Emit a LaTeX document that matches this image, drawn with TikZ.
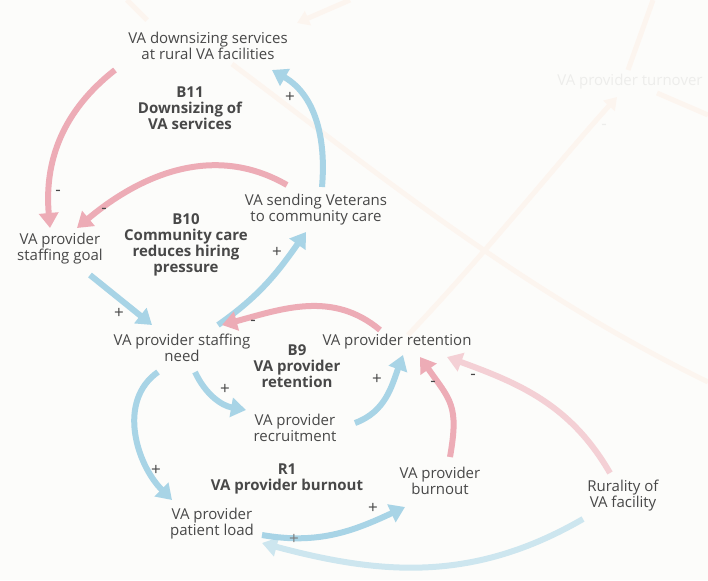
\documentclass[tikz,border=0pt]{standalone}
\usepackage{fontspec}
\setmainfont{Open Sans}
\usetikzlibrary{arrows.meta}
\definecolor{bgpaper}{RGB}{252,252,250}
\definecolor{linkblue}{RGB}{168,212,230}
\definecolor{linkpink}{RGB}{237,172,182}
\definecolor{fadepink}{RGB}{244,208,213}
\definecolor{fadeblue}{RGB}{205,230,239}
\definecolor{ghostline}{RGB}{252,245,239}
\definecolor{ghosttext}{RGB}{237,237,235}
\definecolor{inktext}{RGB}{72,72,72}

\tikzset{
  var/.style={align=center, font=\fontsize{15}{16}\selectfont, text=inktext, inner sep=0pt},
  loopname/.style={var, font=\fontsize{15}{16}\selectfont\bfseries},
  pol/.style={font=\fontsize{17}{17}\selectfont, text=inktext, inner sep=0pt},
  link/.style={line width=6pt, -{Triangle[length=15pt,width=19pt]}},
  ghost/.style={line width=5pt, ghostline},
}

\begin{document}
\begin{tikzpicture}[x=1pt,y=1pt]
  \fill[bgpaper] (0,0) rectangle (708,-580);
  \useasboundingbox (0,0) rectangle (708,-580);

  % faded part of the larger model
  \node[var, text=ghosttext] (turnover) at (630,-82) {VA provider turnover};
  \draw[ghost] (232,-64) .. controls (380,-175) and (520,-290) .. (708,-382);
  \draw[ghost, -{Triangle[length=12pt,width=15pt]}] ([shift={(-222,-253)}]turnover.center) .. controls (480,-260) and (560,-160) .. ([shift={(-13,-15)}]turnover.center);
  \draw[ghost] ([shift={(-2,12)}]turnover.center) -- (653,0);
  \draw[ghost] ([shift={(27,-11)}]turnover.center) -- (708,-115);
  \draw[ghost, -{Triangle[length=12pt,width=15pt]}] (350,0) -- (297,-23);
  \draw[ghost] (127,0) -- (147,-20);
  \node[pol, text=ghosttext] at (604,-127) {-};

  % variables
  \node[var] (down) at (208,-46) {VA downsizing services\\at rural VA facilities};
  \node[var] (goal) at (60,-249) {VA provider\\staffing goal};
  \node[var] (send) at (316,-210) {VA sending Veterans\\to community care};
  \node[var] (need) at (182,-348) {VA provider staffing\\need};
  \node[var] (ret) at (397,-342) {VA provider retention};
  \node[var] (rec) at (295,-428) {VA provider\\recruitment};
  \node[var] (burn) at (440,-481) {VA provider\\burnout};
  \node[var] (load) at (212,-524) {VA provider\\patient load};
  \node[var] (rural) at (623,-496) {Rurality of\\VA facility};

  % loop names
  \node[loopname] (b11) at (190,-108) {B11\\Downsizing of\\VA services};
  \node[loopname] (b10) at (186,-245) {B10\\Community care\\reduces hiring\\pressure};
  \node[loopname] (b9) at (297,-366) {B9\\VA provider\\retention};
  \node[loopname] (r1) at (287,-479) {R1\\VA provider burnout};

  % links
  \draw[link, fadeblue] ([shift={(-40,-23)}]rural.center) to[out=210,in=-15] ([shift={(50,-19)}]load.center);
  \draw[link, fadepink] ([shift={(-13,23)}]rural.center) to[out=120,in=-20] ([shift={(50,-15)}]ret.center);
  \draw[link, linkpink] ([shift={(-93,-24)}]down.center) to[out=218,in=95] ([shift={(-10,21)}]goal.center);
  \draw[link, linkpink] ([shift={(-29,25)}]send.center) to[out=150,in=40] ([shift={(17,21)}]goal.center);
  \draw[link, linkblue] ([shift={(6,23)}]send.center) to[out=85,in=-30] ([shift={(64,-24)}]down.center);
  \draw[link, linkblue] ([shift={(30,-26)}]goal.center) -- ([shift={(-30,23)}]need.center);
  \draw[link, linkblue] ([shift={(36,23)}]need.center) to[out=35,in=235] ([shift={(-10,-22)}]send.center);
  \draw[link, linkpink] ([shift={(-17,12)}]ret.center) to[out=140,in=15] ([shift={(40,23)}]need.center);
  \draw[link, linkblue] ([shift={(13,-24)}]need.center) to[out=-65,in=170] ([shift={(-49,18)}]rec.center);
  \draw[link, linkblue] ([shift={(60,5)}]rec.center) to[out=20,in=-110] ([shift={(6,-13)}]ret.center);
  \draw[link, linkpink] ([shift={(10,24)}]burn.center) to[out=80,in=-55,looseness=1.3] ([shift={(23,-15)}]ret.center);
  \draw[link, linkblue] ([shift={(-24,-24)}]need.center) to[out=215,in=135] ([shift={(-40,24)}]load.center);
  \draw[link, linkblue] ([shift={(50,-11)}]load.center) to[out=-10,in=205] ([shift={(-35,-26)}]burn.center);

  % polarities
  \node[pol] at (58,-193) {-};
  \node[pol] at (104,-211) {-};
  \node[pol] at (290,-97) {+};
  \node[pol] at (119,-313) {+};
  \node[pol] at (277,-252) {+};
  \node[pol] at (253,-323) {-};
  \node[pol] at (225,-389) {+};
  \node[pol] at (377,-379) {+};
  \node[pol] at (433,-384) {-};
  \node[pol] at (473,-377) {-};
  \node[pol] at (156,-470) {+};
  \node[pol] at (373,-508) {+};
  \node[pol, text=inktext!70] at (294,-539) {+};
\end{tikzpicture}
\end{document}
